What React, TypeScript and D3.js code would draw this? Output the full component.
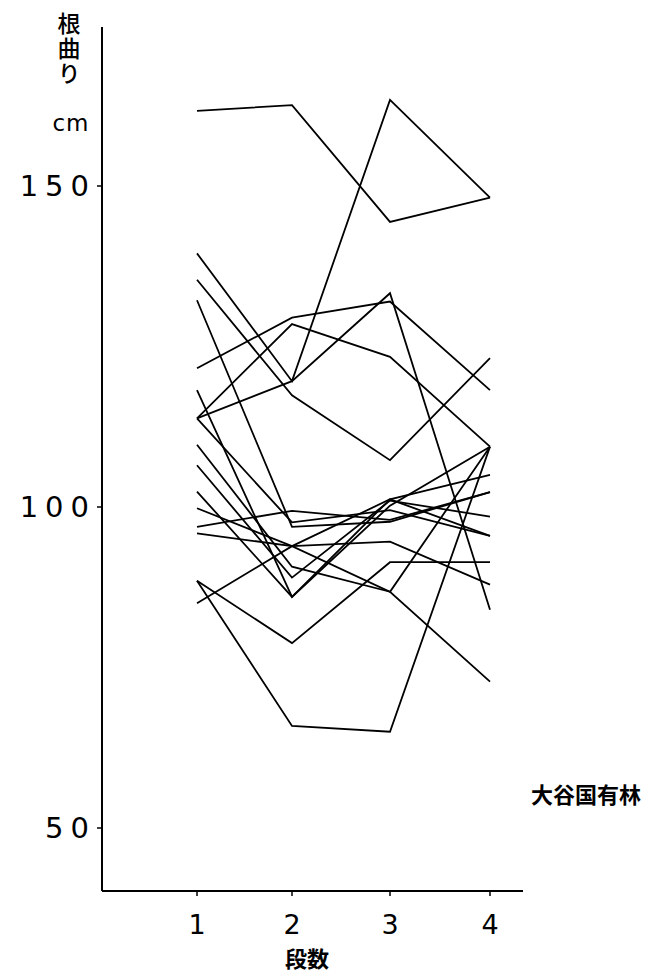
import React from "react";
import * as d3 from "d3";

const stages = [1, 2, 3, 4];
const xTickLabels = ["1", "2", "3", "4"];
const yTicks = [50, 100, 150];

const s01 = [161.7, 162.6, 144.4, 148.2];
const s02 = [139.5, 119.6, 163.4, 148.2];
const s03 = [113.8, 119.6, 133.3, 84.0];
const s04 = [121.6, 129.5, 132.0, 118.2];
const s05 = [135.4, 117.4, 107.3, 123.2];
const s06 = [113.8, 128.5, 123.4, 109.4];
const s07 = [132.2, 96.9, 97.7, 102.3];
const s08 = [118.2, 86.0, 101.2, 105.0];
const s09 = [113.8, 97.6, 99.5, 95.5];
const s10 = [109.7, 90.7, 86.8, 72.8];
const s11 = [106.5, 89.0, 101.0, 98.5];
const s12 = [102.4, 86.0, 100.2, 109.4];
const s13 = [99.8, 93.9, 94.6, 87.9];
const s14 = [96.9, 99.4, 98.0, 102.3];
const s15 = [95.9, 93.9, 86.8, 109.4];
const s16 = [88.5, 78.8, 91.4, 91.4];
const s17 = [88.5, 65.9, 65.0, 109.4];
const s18 = [85.0, 93.9, 101.2, 95.5];

const series = [s01, s02, s03, s04, s05, s06, s07, s08, s09, s10, s11, s12, s13, s14, s15, s16, s17, s18];

const yTitle = "根曲り";
const yUnit = "cm";
const xTitle = "段数";
const siteLabel = "大谷国有林";

export default function App() {
  const W = 649;
  const H = 979;
  const axisX = 102;
  const axisY = 891;
  const x = d3.scaleLinear().domain([1, 2, 3, 4]).range([197, 292, 390, 490]);
  const y = d3.scaleLinear().domain([50, 150]).range([828, 186]);
  const line = d3
    .line<number>()
    .x((_, i) => x(stages[i]))
    .y((d) => y(d));
  const numFont = "'DejaVu Sans', sans-serif";
  const cjkFont = "'Noto Sans CJK JP', sans-serif";

  return (
    <svg
      width={W}
      height={H}
      style={{ position: "absolute", left: 0, top: 0, background: "#fff" }}
    >
      {/* axes */}
      <line x1={axisX} y1={27} x2={axisX} y2={axisY} stroke="#000" strokeWidth={2} />
      <line x1={axisX} y1={axisY} x2={523} y2={axisY} stroke="#000" strokeWidth={2} />

      {yTicks.map((t) => (
        <g key={t}>
          <line x1={axisX - 5} x2={axisX} y1={y(t)} y2={y(t)} stroke="#000" strokeWidth={1.5} />
          <text
            x={89}
            y={y(t)}
            textAnchor="end"
            dominantBaseline="central"
            fontFamily={numFont}
            fontSize={29}
            letterSpacing={7}
            dx={7}
            fill="#000"
          >
            {String(t)}
          </text>
        </g>
      ))}

      {stages.map((s, i) => (
        <g key={s}>
          <line x1={x(s)} x2={x(s)} y1={axisY} y2={axisY + 5} stroke="#000" strokeWidth={1.5} />
          <text
            x={x(s)}
            y={924}
            textAnchor="middle"
            dominantBaseline="central"
            fontFamily={numFont}
            fontSize={27}
            fill="#000"
          >
            {xTickLabels[i]}
          </text>
        </g>
      ))}

      {series.map((d, i) => (
        <path key={i} d={line(d) || ""} fill="none" stroke="#000" strokeWidth={1.8} strokeLinejoin="miter" />
      ))}

      <text
        x={69}
        y={12}
        style={{ writingMode: "vertical-rl" }}
        fontFamily={cjkFont}
        fontSize={23}
        fontWeight={500}
        letterSpacing={2}
        fill="#000"
      >
        {yTitle}
      </text>
      <text
        x={71}
        y={123}
        textAnchor="middle"
        dominantBaseline="central"
        fontFamily={numFont}
        fontSize={23}
        letterSpacing={1}
        fill="#000"
      >
        {yUnit}
      </text>

      <text
        x={307}
        y={957}
        textAnchor="middle"
        dominantBaseline="central"
        fontFamily={cjkFont}
        fontSize={22}
        fontWeight={700}
        fill="#000"
      >
        {xTitle}
      </text>

      <text
        x={641}
        y={793}
        textAnchor="end"
        dominantBaseline="central"
        fontFamily={cjkFont}
        fontSize={22}
        fontWeight={700}
        fill="#000"
      >
        {siteLabel}
      </text>
    </svg>
  );
}
